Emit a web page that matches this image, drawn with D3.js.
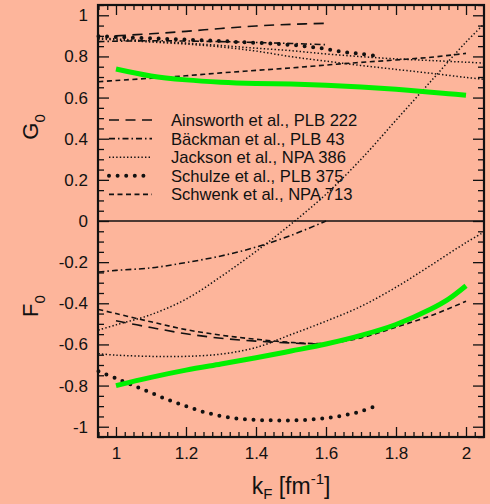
<!DOCTYPE html>
<html>
<head>
<meta charset="utf-8">
<script src="https://cdn.jsdelivr.net/npm/d3@7"></script>
<style>
  html, body { margin: 0; padding: 0; background: #FDB59B; }
  svg { display: block; }
  text { font-family: "Liberation Sans", Arial, Helvetica, sans-serif; fill: #111; }
</style>
</head>
<body>
<svg id="chart" width="490" height="504"></svg>
<script>
// Landau parameters G0 (upper half) and F0 (lower half) versus Fermi momentum
const kGrid = [0.95, 1.0, 1.1, 1.2, 1.3, 1.4, 1.5, 1.6, 1.7, 1.8, 1.9, 2.0, 2.05];

// present work (thick green)
const greenK = [1.0, 1.1, 1.2, 1.3, 1.4, 1.5, 1.6, 1.7, 1.8, 1.9, 1.95, 2.0];
const greenG = [0.739, 0.705, 0.686, 0.675, 0.669, 0.666, 0.660, 0.651, 0.640, 0.626, 0.619, 0.611];
const greenF = [-0.800, -0.760, -0.725, -0.695, -0.665, -0.632, -0.598, -0.556, -0.503, -0.428, -0.380, -0.315];

// Ainsworth et al., PLB 222
const ainsK = [1.0, 1.1, 1.2, 1.3, 1.4, 1.5, 1.6];
const ainsG = [0.900, 0.910, 0.922, 0.936, 0.948, 0.956, 0.961];
const ainsF = [-0.485, -0.518, -0.548, -0.570, -0.584, -0.593, -0.600];

// Bäckman et al., PLB 43
const backK = [0.95, 1.0, 1.1, 1.2, 1.3, 1.4, 1.5, 1.6];
const backG = [0.872, 0.874, 0.876, 0.875, 0.872, 0.868, 0.863, 0.857];
const backF = [-0.248, -0.240, -0.228, -0.202, -0.170, -0.127, -0.070, 0.000];

// Jackson et al., NPA 386 (four curves on the full grid)
const jackG1 = [0.890, 0.885, 0.875, 0.865, 0.853, 0.840, 0.828, 0.812, 0.799, 0.788, 0.780, 0.772, 0.768];
const jackG2 = [0.885, 0.880, 0.870, 0.860, 0.846, 0.826, 0.799, 0.777, 0.756, 0.737, 0.718, 0.698, 0.689];
const jackF1 = [-0.530, -0.505, -0.455, -0.380, -0.270, -0.148, -0.015, 0.130, 0.300, 0.490, 0.680, 0.870, 0.955];
const jackF2 = [-0.645, -0.652, -0.658, -0.658, -0.647, -0.615, -0.552, -0.487, -0.415, -0.322, -0.215, -0.105, -0.055];

// Schulze et al., PLB 375
const schuK = [0.95, 1.0, 1.05, 1.1, 1.15, 1.2, 1.25, 1.3, 1.35, 1.4, 1.45, 1.5, 1.55, 1.6, 1.65, 1.7, 1.75];
const schuG = [0.898, 0.895, 0.891, 0.888, 0.885, 0.882, 0.878, 0.875, 0.870, 0.866, 0.862, 0.856, 0.848, 0.836, 0.822, 0.812, 0.801];
const schuF = [-0.730, -0.765, -0.800, -0.835, -0.870, -0.900, -0.928, -0.948, -0.961, -0.967, -0.969, -0.969, -0.966, -0.958, -0.945, -0.925, -0.893];

// Schwenk et al., NPA 713
const schwK = [0.95, 1.0, 1.1, 1.2, 1.3, 1.4, 1.5, 1.6, 1.7, 1.8, 1.9, 2.0];
const schwG = [0.677, 0.683, 0.694, 0.706, 0.720, 0.732, 0.744, 0.758, 0.771, 0.783, 0.796, 0.815];
const schwF = [-0.430, -0.450, -0.490, -0.528, -0.555, -0.575, -0.590, -0.595, -0.568, -0.516, -0.460, -0.390];

const xTicks = [1, 1.2, 1.4, 1.6, 1.8, 2];
const xTickLabels = ["1", "1.2", "1.4", "1.6", "1.8", "2"];
const yTicks = [1, 0.8, 0.6, 0.4, 0.2, 0, -0.2, -0.4, -0.6, -0.8, -1];
const yTickLabels = ["1", "0.8", "0.6", "0.4", "0.2", "0", "-0.2", "-0.4", "-0.6", "-0.8", "-1"];

const legendNames = ["Ainsworth et al., PLB 222", "Bäckman et al., PLB 43", "Jackson et al., NPA 386",
                     "Schulze et al., PLB 375", "Schwenk et al., NPA 713"];

// line styles
const styles = {
  ains: { dash: "10,6.5", width: 1.6, cap: "butt" },
  back: { dash: "6,3,1.5,3", width: 1.6, cap: "butt" },
  jack: { dash: "1.4,2.2", width: 1.5, cap: "butt" },
  schu: { dash: "0,8.6", width: 4, cap: "round" },
  schw: { dash: "5,3.5", width: 1.6, cap: "butt" }
};

const svg = d3.select("#chart");
const margin = { left: 98, top: 5, right: 6, bottom: 67 };
const W = 490 - margin.left - margin.right;
const H = 504 - margin.top - margin.bottom;

const x = d3.scaleLinear().domain([0.9486, 2.0514]).range([0, W]);
const y = d3.scaleLinear().domain([-1.05, 1.05]).range([H, 0]);

const g = svg.append("g").attr("transform", `translate(${margin.left},${margin.top})`);

const minorX = d3.range(0.95, 2.0501, 0.025).map(v => +v.toFixed(3)).filter(v => !xTicks.some(t => Math.abs(t - v) < 1e-6));
const minorY = d3.range(-1.05, 1.0501, 0.05).map(v => +v.toFixed(3)).filter(v => !yTicks.some(t => Math.abs(t - v) < 1e-6));

function styleAxis(sel) {
  sel.select(".domain").remove();
  sel.selectAll("line").attr("stroke", "#111").attr("stroke-width", 1.3);
  sel.selectAll("text").style("font-size", "17px").attr("fill", "#111");
}

// bottom axis: major labelled and minor ticks, pointing inward
g.append("g").attr("transform", `translate(0,${H})`)
  .call(d3.axisBottom(x).tickValues(xTicks).tickSizeInner(-10).tickSizeOuter(0).tickPadding(10)
        .tickFormat((d, i) => xTickLabels[i]))
  .call(styleAxis)
  .selectAll("text").attr("dy", "0.71em");
g.append("g").attr("transform", `translate(0,${H})`)
  .call(d3.axisBottom(x).tickValues(minorX).tickSizeInner(-5).tickSizeOuter(0).tickFormat(""))
  .call(styleAxis);
// top axis
g.append("g")
  .call(d3.axisTop(x).tickValues(xTicks).tickSizeInner(-10).tickSizeOuter(0).tickFormat(""))
  .call(styleAxis);
g.append("g")
  .call(d3.axisTop(x).tickValues(minorX).tickSizeInner(-5).tickSizeOuter(0).tickFormat(""))
  .call(styleAxis);
// left axis
g.append("g")
  .call(d3.axisLeft(y).tickValues(yTicks).tickSizeInner(-11).tickSizeOuter(0).tickPadding(10)
        .tickFormat((d, i) => yTickLabels[i]))
  .call(styleAxis);
g.append("g")
  .call(d3.axisLeft(y).tickValues(minorY).tickSizeInner(-6).tickSizeOuter(0).tickFormat(""))
  .call(styleAxis);
// right axis
g.append("g").attr("transform", `translate(${W},0)`)
  .call(d3.axisRight(y).tickValues(yTicks).tickSizeInner(-11).tickSizeOuter(0).tickFormat(""))
  .call(styleAxis);
g.append("g").attr("transform", `translate(${W},0)`)
  .call(d3.axisRight(y).tickValues(minorY).tickSizeInner(-6).tickSizeOuter(0).tickFormat(""))
  .call(styleAxis);

// zero line separating G0 and F0
g.append("line")
  .attr("x1", 0).attr("x2", W).attr("y1", y(0)).attr("y2", y(0))
  .attr("stroke", "#111").attr("stroke-width", 1.3);

const line = d3.line().x(d => x(d[0])).y(d => y(d[1])).curve(d3.curveCatmullRom.alpha(0.5));
const zip = (ks, vs) => ks.map((k, i) => [k, vs[i]]);

function drawCurve(data, st, color = "#111") {
  g.append("path")
    .attr("d", line(data))
    .attr("fill", "none")
    .attr("stroke", color)
    .attr("stroke-width", st.width)
    .attr("stroke-dasharray", st.dash)
    .attr("stroke-linecap", st.cap);
}

drawCurve(zip(ainsK, ainsG), styles.ains);
drawCurve(zip(ainsK, ainsF), styles.ains);
drawCurve(zip(backK, backG), styles.back);
drawCurve(zip(backK, backF), styles.back);
drawCurve(zip(kGrid, jackG1), styles.jack);
drawCurve(zip(kGrid, jackG2), styles.jack);
drawCurve(zip(kGrid, jackF1), styles.jack);
drawCurve(zip(kGrid, jackF2), styles.jack);
drawCurve(zip(schuK, schuG), styles.schu);
drawCurve(zip(schuK, schuF), styles.schu);
drawCurve(zip(schwK, schwG), styles.schw);
drawCurve(zip(schwK, schwF), styles.schw);

// present results
const greenStyle = { dash: null, width: 5, cap: "butt" };
drawCurve(zip(greenK, greenG), greenStyle, "#00F000");
drawCurve(zip(greenK, greenF), greenStyle, "#00F000");

// frame
g.append("rect").attr("x", 0).attr("y", 0).attr("width", W).attr("height", H)
  .attr("fill", "none").attr("stroke", "#111").attr("stroke-width", 2.2);

// legend
const legStyles = [styles.ains, styles.back, styles.jack, styles.schu, styles.schw];
const legend = svg.append("g").attr("transform", "translate(109,120)");
legendNames.forEach((name, i) => {
  const row = legend.append("g").attr("transform", `translate(0,${i * 18.6})`);
  const st = legStyles[i];
  row.append("line").attr("x1", 0).attr("x2", 43).attr("y1", 0).attr("y2", 0)
    .attr("stroke", "#111").attr("stroke-width", st.width)
    .attr("stroke-dasharray", st.dash).attr("stroke-linecap", st.cap);
  row.append("text").attr("x", 62).attr("y", 6).style("font-size", "16.6px").text(name);
});

// axis titles
function subTitle(parent, main, sub, size) {
  const t = parent.append("text").style("font-size", size + "px");
  t.append("tspan").text(main);
  t.append("tspan").attr("dy", size * 0.3).style("font-size", (size * 0.68) + "px").text(sub);
  return t;
}
subTitle(svg.append("g").attr("transform", "translate(38,127) rotate(-90)"), "G", "0", 22)
  .attr("text-anchor", "middle");
subTitle(svg.append("g").attr("transform", "translate(38,306) rotate(-90)"), "F", "0", 22)
  .attr("text-anchor", "middle");

const xt = svg.append("text").attr("x", 291).attr("y", 494).attr("text-anchor", "middle").style("font-size", "23px");
xt.append("tspan").text("k");
xt.append("tspan").attr("dy", 5).style("font-size", "15px").text("F");
xt.append("tspan").attr("dy", -5).text(" [fm");
xt.append("tspan").attr("dy", -10).style("font-size", "15px").text("-1");
xt.append("tspan").attr("dy", 10).text("]");
</script>
</body>
</html>
